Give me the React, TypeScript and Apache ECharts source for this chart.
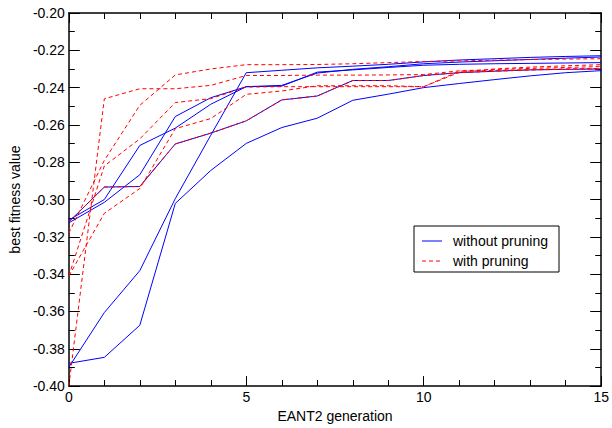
import React, { useEffect, useRef } from "react";
import * as echarts from "echarts";

const generations = [0, 1, 2, 3, 4, 5, 6, 7, 8, 9, 10, 11, 12, 13, 14, 15];

// without pruning (blue, solid)
const noPruneA = [-0.3878, -0.3846, -0.3674, -0.3021, -0.2844, -0.2699, -0.2614, -0.2564, -0.2468, -0.2435, -0.2400, -0.2378, -0.2357, -0.2337, -0.2320, -0.2309];
const noPruneB = [-0.3899, -0.3606, -0.3381, -0.2995, -0.2655, -0.2320, -0.2307, -0.2294, -0.2285, -0.2275, -0.2262, -0.2252, -0.2245, -0.2238, -0.2233, -0.2229];
const noPruneC = [-0.3110, -0.3000, -0.2710, -0.2617, -0.2489, -0.2395, -0.2392, -0.2317, -0.2305, -0.2292, -0.2280, -0.2275, -0.2272, -0.2270, -0.2268, -0.2266];
const noPruneD = [-0.3125, -0.3015, -0.2867, -0.2555, -0.2454, -0.2395, -0.2388, -0.2322, -0.2302, -0.2288, -0.2272, -0.2263, -0.2256, -0.2249, -0.2242, -0.2236];
const noPruneE = [-0.3120, -0.2933, -0.2930, -0.2702, -0.2644, -0.2578, -0.2466, -0.2445, -0.2362, -0.2362, -0.2335, -0.2320, -0.2312, -0.2305, -0.2302, -0.2300];

// with pruning (red, dashed)
const pruneA = [-0.4000, -0.2460, -0.2406, -0.2406, -0.2388, -0.2335, -0.2335, -0.2333, -0.2333, -0.2332, -0.2330, -0.2310, -0.2303, -0.2297, -0.2292, -0.2287];
const pruneB = [-0.3180, -0.2790, -0.2495, -0.2332, -0.2300, -0.2277, -0.2277, -0.2276, -0.2272, -0.2266, -0.2260, -0.2257, -0.2253, -0.2250, -0.2247, -0.2245];
const pruneC = [-0.3410, -0.3074, -0.2941, -0.2620, -0.2566, -0.2436, -0.2418, -0.2390, -0.2390, -0.2390, -0.2395, -0.2312, -0.2308, -0.2304, -0.2300, -0.2297];
const pruneD = [-0.3120, -0.2933, -0.2930, -0.2702, -0.2644, -0.2578, -0.2466, -0.2445, -0.2362, -0.2362, -0.2335, -0.2320, -0.2312, -0.2305, -0.2302, -0.2300];
const pruneE = [-0.3410, -0.2820, -0.2675, -0.2480, -0.2459, -0.2397, -0.2395, -0.2395, -0.2395, -0.2395, -0.2395, -0.2318, -0.2300, -0.2290, -0.2283, -0.2277];

const blueRuns = [noPruneA, noPruneB, noPruneC, noPruneD, noPruneE];
const redRuns = [pruneA, pruneB, pruneC, pruneD, pruneE];

const legendNames = ["without pruning", "with pruning"];
const xTitle = "EANT2 generation";
const yTitle = "best fitness value";

const FONT = "'Liberation Sans', Arial, Helvetica, sans-serif";

export default function App() {
  const ref = useRef<HTMLDivElement>(null);

  useEffect(() => {
    if (!ref.current) return;
    const chart = echarts.init(ref.current, null, { renderer: "svg" });

    const toPairs = (vals: number[]) => generations.map((g, i) => [g, vals[i]]);

    const lineSeries = (vals: number[], color: string, dashed: boolean, name: string) => ({
      type: "line",
      name,
      data: toPairs(vals),
      symbol: "none",
      showSymbol: false,
      xAxisIndex: 0,
      yAxisIndex: 0,
      lineStyle: { color, width: 1, type: dashed ? [4, 3] : "solid" },
      z: dashed ? 3 : 2,
    });

    const axisLine = { show: true, onZero: false, lineStyle: { color: "#000", width: 1.5 } };

    // legend samples drawn as small filled rects
    const lx = 422;
    const blueY = 240.5;
    const redY = 260.5;
    const redDashes = [0, 7, 14].map((dx) => ({
      type: "rect",
      z: 101,
      shape: { x: lx + dx, y: redY, width: 4, height: 1 },
      style: { fill: "#ff0000" },
    }));

    const option = {
      animation: false,
      backgroundColor: "#fff",
      grid: { left: 66, right: 9, top: 13, bottom: 39, containLabel: false },
      xAxis: [
        {
          type: "value",
          min: 0,
          max: 15,
          interval: 5,
          position: "bottom",
          axisLine,
          axisTick: { show: true, inside: true, length: 10, lineStyle: { color: "#000", width: 1 } },
          minorTick: { show: true, splitNumber: 5, length: 6, lineStyle: { color: "#000", width: 1 } },
          splitLine: { show: false },
          axisLabel: { color: "#000", fontSize: 14, fontFamily: FONT, margin: 4 },
          name: xTitle,
          nameLocation: "middle",
          nameGap: 22,
          nameTextStyle: { color: "#000", fontSize: 14, fontFamily: FONT },
        },
        {
          type: "value",
          min: 0,
          max: 15,
          interval: 5,
          position: "top",
          axisLine,
          axisTick: { show: true, inside: true, length: 10, lineStyle: { color: "#000", width: 1 } },
          minorTick: { show: true, splitNumber: 5, length: 6, lineStyle: { color: "#000", width: 1 } },
          splitLine: { show: false },
          axisLabel: { show: false },
        },
      ],
      yAxis: [
        {
          type: "value",
          min: -0.4,
          max: -0.2,
          interval: 0.02,
          position: "left",
          axisLine,
          axisTick: { show: true, inside: true, length: 11, lineStyle: { color: "#000", width: 1 } },
          minorTick: { show: true, splitNumber: 2, length: 6, lineStyle: { color: "#000", width: 1 } },
          splitLine: { show: false },
          axisLabel: {
            color: "#000",
            fontSize: 14,
            fontFamily: FONT,
            margin: 4,
            formatter: (v: number) => v.toFixed(2),
          },
          name: yTitle,
          nameLocation: "middle",
          nameGap: 34,
          nameRotate: 90,
          nameTextStyle: { color: "#000", fontSize: 14, fontFamily: FONT },
        },
        {
          type: "value",
          min: -0.4,
          max: -0.2,
          interval: 0.02,
          position: "right",
          axisLine,
          axisTick: { show: true, inside: true, length: 11, lineStyle: { color: "#000", width: 1 } },
          minorTick: { show: true, splitNumber: 2, length: 6, lineStyle: { color: "#000", width: 1 } },
          splitLine: { show: false },
          axisLabel: { show: false },
        },
      ],
      series: [
        ...blueRuns.map((r) => lineSeries(r, "#0000ff", false, legendNames[0])),
        ...redRuns.map((r) => lineSeries(r, "#ff0000", true, legendNames[1])),
      ],
      graphic: [
        {
          type: "rect",
          z: 100,
          shape: { x: 414, y: 226, width: 145, height: 46 },
          style: { fill: "#fff", stroke: "#000", lineWidth: 1 },
        },
        {
          type: "rect",
          z: 101,
          shape: { x: lx, y: blueY, width: 20, height: 1 },
          style: { fill: "#0000ff" },
        },
        ...redDashes,
        {
          type: "text",
          z: 101,
          x: 453,
          y: 241,
          style: { text: legendNames[0], fill: "#000", font: `14px ${FONT}`, verticalAlign: "middle" },
        },
        {
          type: "text",
          z: 101,
          x: 453,
          y: 261,
          style: { text: legendNames[1], fill: "#000", font: `14px ${FONT}`, verticalAlign: "middle" },
        },
      ],
    };

    chart.setOption(option as any);
    return () => chart.dispose();
  }, []);

  return (
    <div
      ref={ref}
      style={{ position: "absolute", left: 0, top: 0, width: 612, height: 428 }}
    />
  );
}
